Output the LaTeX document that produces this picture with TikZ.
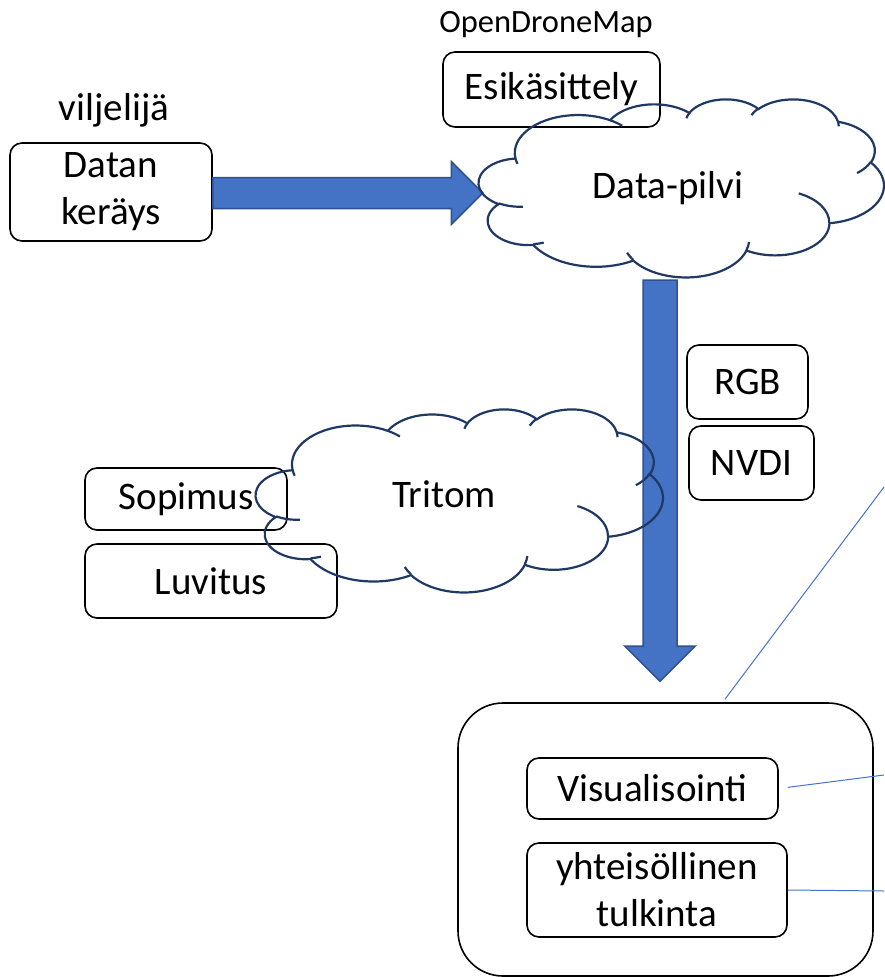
\documentclass[tikz,border=0pt]{standalone}
\usepackage{fontspec}
\setmainfont{Carlito}
\usetikzlibrary{calc,positioning}

\definecolor{arrowfill}{HTML}{4472C4}
\definecolor{arrowedge}{HTML}{2F528F}
\definecolor{cloudedge}{HTML}{203864}
\definecolor{linkblue}{HTML}{4472C4}

\tikzset{
  box/.style={draw, rounded corners=12pt, line width=1.6pt, align=center, inner sep=0pt, font=\fontsize{39}{47}\selectfont},
  tag/.style={inner sep=0pt, font=\fontsize{39}{47}\selectfont},
  cloudframe/.style={inner sep=0pt},
  cloudline/.style={draw=cloudedge, line width=2.2pt},
  bigarrow/.style={fill=arrowfill, draw=arrowedge, line width=1.5pt, line join=miter},
  link/.style={draw=linkblue, line width=1pt},
}

% cloud outline in the box of a node: #1 node, #2 width/100, #3 height/100
\newcommand\officecloud[3]{%
  \begin{scope}[shift={(#1.north west)}, x=#2pt, y=-#3pt]
    \draw[cloudline] (9.028,33.264)
      foreach \rx/\ry/\st/\sw in {15.632/21.273/-190.487/123.781, 12.345/16.822/-144.102/89.945,
        10.104/13.762/-145.808/99.723, 11.243/15.266/-130.986/117.242, 12.345/16.836/-78.709/109.027,
        15.683/21.343/-46.267/130.269, 13.391/18.211/0.625/114.033, 15.630/21.331/22.452/115.173,
        17.870/24.405/66.243/75.711, 10.093/13.699/-274.942/146.736, 10.058/13.762/-246.829/152.519}
      { arc[x radius=\rx, y radius=\ry, start angle={atan2(\rx*sin(\st),\ry*cos(\st))},
            delta angle={mod(atan2(\rx*sin(\st+\sw),\ry*cos(\st+\sw))-atan2(\rx*sin(\st),\ry*cos(\st))+720,360)}] }
      -- cycle;
    \foreach \px/\py/\rx/\ry/\st/\sw in {10.863/60.595/10.058/13.762/86.742/26.430,
        16.037/80.785/10.093/13.699/73.610/11.447, 38.144/90.486/15.630/21.331/137.624/14.081,
        66.729/80.442/15.630/21.331/6.453/15.998, 79.002/53.134/13.391/18.211/-70.292/70.917,
        96.755/35.542/12.345/16.836/30.318/27.752, 88.713/12.560/11.243/15.266/-13.744/14.859,
        67.310/9.148/11.243/15.266/-149.181/18.195, 51.252/10.926/10.104/13.762/-163.494/17.686,
        32.407/12.019/15.632/21.273/-66.707/12.319, 9.553/36.549/15.632/21.273/157.654/11.858}
      \draw[cloudline] (\px,\py) arc[x radius=\rx, y radius=\ry, start angle={atan2(\rx*sin(\st),\ry*cos(\st))},
            delta angle={mod(atan2(\rx*sin(\st+\sw),\ry*cos(\st+\sw))-atan2(\rx*sin(\st),\ry*cos(\st))+720,360)}];
  \end{scope}}

\begin{document}
\begin{tikzpicture}[x=1pt, y=-1pt]
\useasboundingbox (0,0) rectangle (884,977);

% boxes
\node[box, minimum width=202pt, minimum height=98pt] (datan) at (111,192) {Datan\\keräys};
\node[tag, anchor=base] (viljelija) at (114,120) {viljelijä};
\node[box, minimum width=217pt, minimum height=75pt] (esik) at (551.5,89.5) {Esikäsittely};
\node[tag, font=\fontsize{32.5}{39}\selectfont, anchor=base] (odm) at (546,32) {OpenDroneMap};
\node[box, minimum width=121pt, minimum height=74pt] (rgb) at (747.5,382) {RGB};
\node[box, minimum width=125pt, minimum height=74pt] (nvdi) at (751.5,463) {NVDI};
\node[box, minimum width=202pt, minimum height=62pt] (sopimus) at (186,499) {Sopimus};
\node[box, minimum width=252pt, minimum height=74pt] (luvitus) at (211,581) {Luvitus};
\node[box, rounded corners=45pt, minimum width=415pt, minimum height=273pt] (tulos) at (665.5,839.5) {};
\node[box, minimum width=251pt, minimum height=61pt] (visu) at (652.5,788.5) {Visualisointi};
\node[box, minimum width=260pt, minimum height=94pt] (yht) at (657,890) {yhteisöllinen\\tulkinta};

% clouds
\node[cloudframe, minimum width=405pt, minimum height=178pt, label={[tag, xshift=-13.5pt]center:Data-pilvi}] (pilvi) at (681.5,188) {};
\node[cloudframe, minimum width=407pt, minimum height=183pt, label={[tag, xshift=-15.5pt, yshift=6.5pt]center:Tritom}] (tritom) at (459.5,500.5) {};

% block arrows
\coordinate (hbase) at ($(datan.east)+(0,1)$);
\coordinate (htip) at ($(datan.east -| pilvi.west)+(4,1)$);
\draw[bigarrow] ($(hbase)+(0,-15.5)$) -- ($(htip)+(-31.5,-15.5)$) -- ($(htip)+(-31.5,-31.5)$) -- (htip)
  -- ($(htip)+(-31.5,31.5)$) -- ($(htip)+(-31.5,15.5)$) -- ($(hbase)+(0,15.5)$) -- cycle;

\coordinate (vbase) at ($(pilvi.south)+(-21.5,3)$);
\coordinate (vtip) at ($(tulos.north)+(-5.5,-21)$);
\draw[bigarrow] ($(vbase)+(-17,0)$) -- ($(vtip)+(-17,-35)$) -- ($(vtip)+(-35,-35)$) -- (vtip)
  -- ($(vtip)+(35,-35)$) -- ($(vtip)+(17,-35)$) -- ($(vbase)+(17,0)$) -- cycle;

\officecloud{pilvi}{4.05}{1.78}
\officecloud{tritom}{4.07}{1.83}

% thin lines to the right
\coordinate (ut1) at (884,487);
\coordinate (ut2) at (884,775);
\coordinate (ut3) at (884,891);
\draw[link] ($(tulos.north)+(59.5,-3)$) -- (ut1);
\draw[link, shorten <=9pt] (visu.east) -- (ut2);
\draw[link] (yht.east) -- (ut3);

\end{tikzpicture}
\end{document}
